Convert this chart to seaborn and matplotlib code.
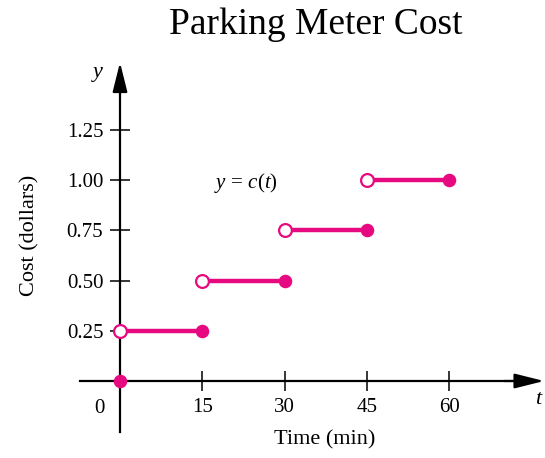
import numpy as np
import pandas as pd
import matplotlib
matplotlib.use('Agg')
import matplotlib.pyplot as plt
import seaborn as sns

# Step function data: cost per 15-minute block
seg_start = [0, 15, 30, 45]
seg_end = [15, 30, 45, 60]
cost = [0.25, 0.50, 0.75, 1.00]
free_t = [0]
free_cost = [0.0]

x_ticks = [15, 30, 45, 60]
y_ticks = [0.25, 0.50, 0.75, 1.00, 1.25]

MAGENTA = '#E6097F'

sns.set_style('white')
plt.rcParams['font.family'] = ['Liberation Serif', 'DejaVu Serif']
plt.rcParams['mathtext.fontset'] = 'custom'
plt.rcParams['mathtext.rm'] = 'Liberation Serif'
plt.rcParams['mathtext.it'] = 'Liberation Serif:italic'
for key in ['text.color', 'axes.labelcolor', 'xtick.color', 'ytick.color']:
    plt.rcParams[key] = 'black'

# long-form table for the horizontal pieces
rows = []
for i, (a, b, c) in enumerate(zip(seg_start, seg_end, cost)):
    rows.append({'t': a, 'cost': c, 'seg': i})
    rows.append({'t': b, 'cost': c, 'seg': i})
df = pd.DataFrame(rows)

fig = plt.figure(figsize=(5.45, 4.58), dpi=100)
ax = fig.add_axes([0, 0, 1, 1])

# pixel mapping: origin at (120, 381), 5.49 px/min, 201 px/dollar
px_t, px_c = 82.3 / 15, 201.0
ax.set_xlim(-120 / px_t, (545 - 120) / px_t)
ax.set_ylim(-(458 - 381) / px_c, 381 / px_c)

# axes through the origin
for side in ['top', 'right']:
    ax.spines[side].set_visible(False)
ax.spines['left'].set_position(('data', 0))
ax.spines['bottom'].set_position(('data', 0))
ax.spines['left'].set_bounds(-0.255, 1.50)
ax.spines['bottom'].set_bounds(-7.3, 72)
for side in ['left', 'bottom']:
    ax.spines[side].set_linewidth(1.6)
    ax.spines[side].set_color('black')

arrow = dict(arrowstyle='-|>,head_length=1.0,head_width=0.25', color='black',
             lw=1.6, mutation_scale=18, shrinkA=0, shrinkB=0)
ax.annotate('', xy=(77.3, 0), xytext=(70, 0), arrowprops=arrow, annotation_clip=False)
ax.annotate('', xy=(0, 1.585), xytext=(0, 1.45), arrowprops=arrow, annotation_clip=False)

ax.set_xticks(x_ticks)
ax.set_yticks(y_ticks)
ax.set_yticklabels([f'{v:.2f}' for v in y_ticks])
ax.tick_params(bottom=True, left=True, direction='inout', length=14, width=1.1,
               labelsize=15, color='black', labelcolor='black')
ax.tick_params(axis='x', pad=5)
ax.tick_params(axis='y', pad=5)
ax.annotate('0', xy=(0, 0), xytext=(-15, -20), textcoords='offset points',
            fontsize=15, ha='center', va='center')

# the step function
sns.lineplot(data=df, x='t', y='cost', units='seg', estimator=None, sort=False,
             color=MAGENTA, lw=3.2, legend=False, ax=ax, zorder=3)
sns.scatterplot(x=seg_end + free_t, y=cost + free_cost, color=MAGENTA, s=95,
                linewidth=0, ax=ax, zorder=5, clip_on=False)
sns.scatterplot(x=seg_start, y=cost, facecolor='white', edgecolor=MAGENTA, s=85,
                linewidth=1.6, ax=ax, zorder=5, clip_on=False)

ax.set_xlabel('')
ax.set_ylabel('')
ax.text(23.0, 0.985, r'$y\, =\, c(t)$', fontsize=15, ha='center', va='center')

# titles and axis names
ax.text(316 / 545, 1 - 25 / 458, 'Parking Meter Cost', transform=ax.transAxes,
        fontsize=27, ha='center', va='center')
ax.text(325 / 545, 1 - 440 / 458, 'Time (min)', transform=ax.transAxes,
        fontsize=16, ha='center', va='center')
ax.text(30 / 545, 1 - 235 / 458, 'Cost (dollars)', transform=ax.transAxes,
        fontsize=16, ha='center', va='center', rotation=90)
ax.text(98 / 545, 1 - 72 / 458, 'y', transform=ax.transAxes,
        fontsize=16, ha='center', va='center', style='italic')
ax.text(538 / 545, 1 - 400 / 458, 't', transform=ax.transAxes,
        fontsize=16, ha='center', va='center', style='italic')

fig.savefig('out.png', dpi=100)
